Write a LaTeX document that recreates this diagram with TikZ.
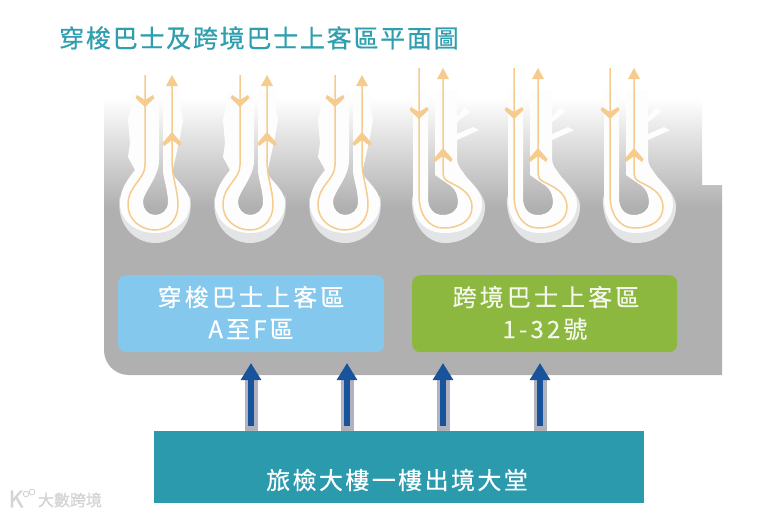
\documentclass[tikz,border=0pt]{standalone}
\usepackage{fontspec}
\usetikzlibrary{arrows.meta}
\newfontfamily\cjktitle[LetterSpace=7,FakeBold=0.6]{Noto Sans CJK TC}
\newfontfamily\cjkbox[LetterSpace=13,FakeBold=0.3]{Noto Sans CJK TC}
\newfontfamily\cjklobby[LetterSpace=10,FakeBold=0.4]{Noto Sans CJK TC}
\newfontfamily\cjkmark[FakeBold=1]{Noto Sans CJK TC}
\definecolor{floorgray}{HTML}{B1B0B0}
\definecolor{lanewhite}{HTML}{FDFDFD}
\definecolor{laneshadow}{HTML}{E2E4E5}
\definecolor{laneorange}{HTML}{F5CB8E}
\definecolor{titleteal}{HTML}{2E9FAE}
\definecolor{lobbyteal}{HTML}{2A9AAC}
\definecolor{shuttleblue}{HTML}{85C8EE}
\definecolor{crossgreen}{HTML}{8DB83F}
\definecolor{arrowblue}{HTML}{18539C}
\definecolor{arrowgray}{HTML}{B0B3BC}
\tikzset{
  lanefill/.style={fill=lanewhite},
  shadowfill/.style={fill=laneshadow},
  route/.style={draw=laneorange,line width=1.5pt},
  chevfill/.style={fill=laneorange},
  zonebox/.style={rounded corners=8pt,minimum width=266pt,minimum height=77pt,inner sep=0pt,anchor=north west},
  zonetext/.style={text=white,font=\cjkbox\fontsize{24}{24}\selectfont,inner sep=0pt},
  entrancegray/.style={draw=arrowgray,line width=13pt},
  entranceblue/.style={draw=arrowblue,line width=6pt,shorten <=5pt,-{Triangle[width=19.5pt,length=17pt]}},
}
\newcommand{\chevdown}[2]{\fill[chevfill] (#1,#2+6)--(#1-9.5,#2-3)--(#1-8,#2-6)--(#1,#2-1)--(#1+8,#2-6)--(#1+9.5,#2-3)--cycle;}
\newcommand{\chevup}[2]{\fill[chevfill] (#1,#2-7)--(#1-9.5,#2+4)--(#1-8,#2+7)--(#1,#2+1)--(#1+8,#2+7)--(#1+9.5,#2+4)--cycle;}
\newcommand{\headup}[2]{\fill[chevfill] (#1,#2)--(#1+6,#2+11)--(#1-6,#2+11)--cycle;}
\begin{document}
\begin{tikzpicture}[x=1pt,y=-1pt]
\useasboundingbox (0,0) rectangle (775,515);
\fill[white] (0,0) rectangle (775,515);
% floor
\begin{scope}
\clip (104,90)--(702,90)--(702,185)--(722,185)--(722,375)--(129,375)
  .. controls (115,375) and (104,364) .. (104,350)--cycle;
\shade[top color=white,bottom color=floorgray] (100,98) rectangle (725,208);
\fill[floorgray] (100,207) rectangle (725,376);
\end{scope}
% keyhole bays
\foreach \cx in {155,250,345}{
\begin{scope}[shift={(\cx,0)}]
  \fill[shadowfill] (-35,195) .. controls (-40,225) and (-20,243) .. (0,243)
     .. controls (20,243) and (40,225) .. (35,195)
     .. controls (30,220) and (15,225) .. (0,225)
     .. controls (-15,225) and (-30,220) .. (-35,195)--cycle;
  \fill[lanefill] (-24,90)--(-23,103)--(-27,120)--(-25,143)--(-27,157)--(-20,170)
     .. controls (-28,180) and (-35,190) .. (-35,203)
     .. controls (-35,222) and (-18,233) .. (0,233)
     .. controls (18,233) and (35,222) .. (35,203)
     .. controls (35,190) and (22,182) .. (17,173)
     --(20,160)--(25,137)--(28,120)--(25,100)--(25,90)
     --(8,90)--(8,170)
     .. controls (8,178) and (13,190) .. (13,202)
     .. controls (13,210) and (7,215) .. (0,215)
     .. controls (-7,215) and (-12,209) .. (-12,202)
     .. controls (-12,192) and (4,178) .. (4,160)
     --(4,90)--cycle;
  \draw[route] (-10,75)--(-10,165)
     .. controls (-10,180) and (-27,185) .. (-27,205)
     .. controls (-27,220) and (-14,230) .. (0,230)
     .. controls (13,230) and (23,220) .. (23,205)
     .. controls (23,190) and (17,178) .. (17,160)--(17,80);
  \chevdown{-10}{101}
  \chevup{17}{139}
  \headup{17}{75}
\end{scope}}
% hook bays
\foreach \cx in {419,514,610}{
\begin{scope}[shift={(\cx,0)}]
  \fill[shadowfill] (-7,195) .. controls (-9,225) and (8,243) .. (26,243)
     .. controls (50,243) and (67,225) .. (66,205)
     .. controls (65,195) and (55,185) .. (48,178)
     --(44,190) .. controls (50,205) and (40,226) .. (26,226)
     .. controls (10,226) and (-3,215) .. (-7,195)--cycle;
  \fill[lanefill] (38,140)--(60,130)--(54,127)--(38,134)--cycle;
  \fill[lanefill] (38,122)--(51,112)--(46,107)--(38,117)--cycle;
  \fill[lanefill] (-6,90)--(-6,200)
     .. controls (-6,222) and (8,233) .. (26,233)
     .. controls (48,233) and (63,222) .. (63,203)
     .. controls (63,190) and (48,180) .. (44,172)
     .. controls (41,168) and (38,165) .. (38,158)
     --(38,90)--(16,90)--(16,175)
     --(32,186)
     .. controls (37,190) and (39,196) .. (39,203)
     .. controls (39,210) and (32,215) .. (24,215)
     .. controls (14,215) and (9,208) .. (9,198)
     --(9,90)--cycle;
  \draw[route] (0,68)--(0,195)
     .. controls (0,215) and (10,228) .. (24,228)
     .. controls (42,228) and (53,220) .. (53,207)
     .. controls (53,192) and (38,186) .. (30,182)
     .. controls (26,180) and (24,178) .. (24,172)--(24,75);
  \chevdown{0}{113}
  \chevup{24}{155}
  \headup{24}{68}
\end{scope}}
% zone boxes
\node[zonebox,fill=shuttleblue] (shuttle) at (118,275) {};
\node[zonebox,fill=crossgreen,minimum width=265pt] (cross) at (412,275) {};
\node[zonetext] (shuttleA) at (251,297) {穿梭巴士上客區};
\node[zonetext] (shuttleB) at (251,329) {A至F區};
\node[zonetext,text=white!90!crossgreen] (crossA) at (546,297) {跨境巴士上客區};
\node[zonetext,text=white!90!crossgreen] (crossB) at (545,329) {1-32號};
% title
\node[text=titleteal,font=\cjktitle\fontsize{25}{25}\selectfont,inner sep=0pt,anchor=west] (title) at (59,38) {穿梭巴士及跨境巴士上客區平面圖};
% lobby
\node[fill=lobbyteal,minimum width=490pt,minimum height=72pt,inner sep=0pt,anchor=north west] (lobby) at (154,431) {};
\node[text=white,font=\cjklobby\fontsize{24}{24}\selectfont,inner sep=0pt] (lobbytext) at (397,480) {旅檢大樓一樓出境大堂};
% entrance arrows
\foreach \n/\ax in {a/251,b/347,c/443,d/540}{
  \coordinate (tip\n) at (\ax,363);
  \draw[entrancegray] (lobby.north -| tip\n)--++(0,-52);
}
\foreach \n in {a,b,c,d}{
  \draw[entranceblue] (lobby.north -| tip\n)--(tip\n);
}
% watermark
\node[text=black!17,font=\cjkmark\fontsize{16}{16}\selectfont,inner sep=0pt] (mark) at (70,500) {大數跨境};
\node[text=black!17,font=\cjkmark\fontsize{23}{23}\selectfont,inner sep=0pt] (markk) at (16,499) {K};
\draw[black!17,line width=0.9pt] (26,494) circle (2.8);
\draw[black!17,line width=0.9pt] (32,492) circle (2.8);
\end{tikzpicture}
\end{document}
